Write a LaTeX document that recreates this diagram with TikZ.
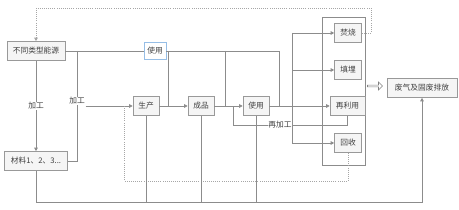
\documentclass[tikz,border=0pt]{standalone}
\usepackage{fontspec}
\setmainfont{Noto Sans CJK SC}
\usetikzlibrary{arrows.meta,shapes.arrows}
\definecolor{lightblue}{RGB}{150,190,230}

\begin{document}
\begin{tikzpicture}[
    x=0.05cm, y=-0.05cm,
    every node/.style={font=\fontsize{11}{13}\selectfont, text=black!75},
    box/.style={rectangle, draw=black!40, fill=black!4, line width=0.8pt, minimum height=0.95cm, inner sep=1pt},
    link/.style={draw=black!45, line width=1pt},
    arr/.style={link, -{Triangle[length=5pt,width=5pt]}},
    dots/.style={link, draw=black!35, dotted},
    tag/.style={fill=white, inner sep=1pt}
]
\useasboundingbox (0,0) rectangle (459,210);

% disposal group
\node[draw=black!45, line width=1.2pt, minimum width=2.15cm, minimum height=7.4cm] (pool) at (343.5,91) {};

\node[box, minimum width=2.9cm] (src) at (36,51) {不同类型能源};
\node[box, minimum width=1.1cm, minimum height=0.85cm, draw=lightblue, fill=white] (use1) at (155,51) {使用};
\node[box, minimum width=1.3cm] (prod) at (146,106) {生产};
\node[box, minimum width=1.3cm] (goods) at (201,106) {成品};
\node[box, minimum width=1.3cm] (use2) at (256,106) {使用};
\node[box, minimum width=3.15cm] (mat) at (36,161) {材料1、2、3...};
\node[box, minimum width=1.35cm] (burn) at (348,33) {焚烧};
\node[box, minimum width=1.35cm] (landf) at (348,70) {填埋};
\node[box, minimum width=1.75cm] (reuse) at (347.5,106) {再利用};
\node[box, minimum width=1.35cm] (recyc) at (348,143) {回收};
\node[box, minimum width=3.5cm] (emit) at (422,88) {废气及固废排放};
\node[single arrow, draw=black!50, line width=0.8pt, minimum height=0.75cm, minimum width=0.4cm,
      single arrow head extend=0.1cm, inner sep=0.5pt] (out) at (374.5,86) {};

% junctions
\coordinate (d1) at (371,8);
\coordinate (j) at (77,51);
\coordinate (t1) at (168,51);
\coordinate (t2) at (225,51);
\coordinate (t3) at (279,51);
\coordinate (b) at (292,106);
\coordinate (r) at (233,125);
\coordinate (q) at (124,181);
\coordinate (g) at (36,202);

% energy and materials
\draw[dots, -{Triangle[length=5pt,width=5pt]}] (burn.east) -| (d1) -| (src.north);
\draw[arr] (src.south) -- node[tag] {加工} (mat.north);
\draw[link] (src.east) -- (use1.west);
\draw[link] (use1.east) -- (t3) -- (t3 |- use2);
\draw[link] (t1) -- (t1 |- prod);
\draw[link] (t2) -- (t2 |- goods);
\draw[link] (j) |- (mat.east);
\node[tag] (lbl) at (77,101) {加工};
\draw[arr] (lbl.east |- prod) -- (prod.west);

% main chain
\draw[arr] (prod) -- (goods);
\draw[arr] (goods) -- (use2);
\draw[arr] (use2) -- (reuse);
\draw[link] (b |- burn) -- (b |- recyc);
\draw[arr] (b |- burn) -- (burn.west);
\draw[arr] (b |- landf) -- (landf.west);
\draw[arr] (b |- recyc) -- (recyc.west);
\draw[link] (reuse.south) |- (r) -- (r |- use2);
\node[tag] at (280,125) {再加工};
\draw[dots] (recyc.south) |- (q) -- (q |- prod);

% emissions
\draw[arr] (mat.south) -- (g) -| (emit.south);
\draw[link] (prod.south) -- (prod |- g);
\draw[link] (goods.south) -- (goods |- g);
\draw[link] (use2.south) -- (use2 |- g);
\end{tikzpicture}
\end{document}
